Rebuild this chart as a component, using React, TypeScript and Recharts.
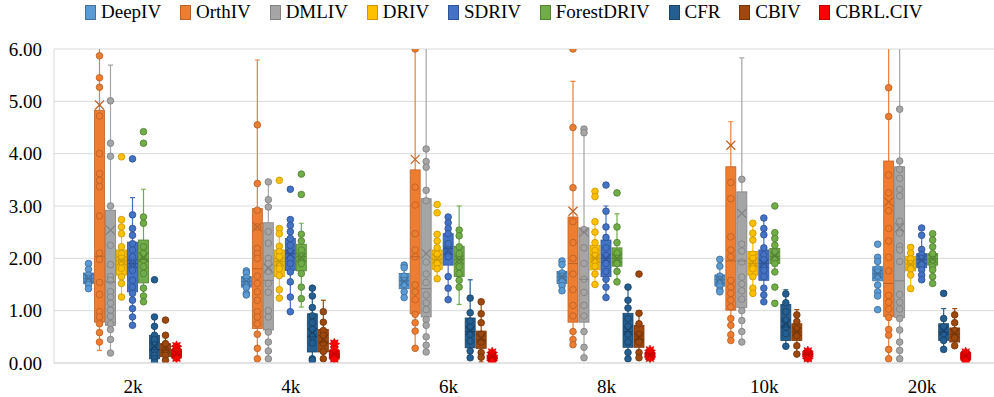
import React from 'react';
import { ComposedChart, Bar, XAxis, YAxis, CartesianGrid } from 'recharts';

const CATEGORIES = ['2k', '4k', '6k', '8k', '10k', '20k'];
const Y_TICKS = [0, 1, 2, 3, 4, 5, 6];

// box stats per category: [whiskerLow, q1, median, q3, whiskerHigh, mean]
const DEEPIV_BOX = [
  [1.42, 1.52, 1.61, 1.72, 1.90, 1.62],
  [1.30, 1.45, 1.56, 1.65, 1.76, 1.56],
  [1.25, 1.42, 1.57, 1.71, 1.87, 1.56],
  [1.38, 1.52, 1.65, 1.75, 1.95, 1.65],
  [1.36, 1.47, 1.59, 1.68, 1.98, 1.60],
  [1.28, 1.57, 1.70, 1.84, 2.02, 1.70],
];
const DEEPIV_PTS = [
  [1.90, 1.79, 1.68, 1.62, 1.57, 1.50, 1.42],
  [1.76, 1.72, 1.63, 1.56, 1.50, 1.44, 1.33, 1.30],
  [1.87, 1.82, 1.66, 1.58, 1.50, 1.36, 1.25],
  [1.95, 1.88, 1.72, 1.66, 1.60, 1.55, 1.48, 1.38],
  [1.98, 1.85, 1.66, 1.60, 1.53, 1.47, 1.39, 1.36],
  [2.27, 2.02, 1.94, 1.80, 1.74, 1.66, 1.49, 1.36, 1.28, 1.02],
];

const ORTHIV_BOX = [
  [0.24, 0.78, 2.04, 4.83, 6.05, 4.93],
  [0.08, 0.66, 1.80, 2.95, 5.79, 2.60],
  [0.28, 0.94, 2.03, 3.69, 6.00, 3.89],
  [0.35, 0.78, 1.90, 2.79, 5.38, 2.90],
  [0.43, 1.01, 1.95, 3.75, 4.61, 4.16],
  [0.06, 0.89, 1.52, 3.86, 6.50, 3.08],
];
const ORTHIV_PTS = [
  [5.87, 5.45, 5.27, 4.72, 4.00, 3.62, 3.49, 3.37, 2.81, 2.10, 1.98, 1.54, 1.31, 0.98, 0.88, 0.75, 0.58, 0.40],
  [4.55, 3.43, 2.92, 2.60, 2.19, 2.09, 2.00, 1.66, 1.52, 1.36, 1.20, 0.98, 0.88, 0.75, 0.55, 0.28, 0.08],
  [6.00, 3.36, 3.02, 2.47, 2.16, 2.03, 1.49, 1.36, 1.21, 0.93, 0.77, 0.61, 0.28],
  [6.00, 4.50, 3.35, 2.70, 2.30, 2.00, 1.70, 1.40, 1.10, 0.90, 0.60, 0.45, 0.35],
  [3.45, 3.14, 2.41, 2.16, 2.03, 1.58, 1.45, 1.33, 1.20, 1.07, 0.85, 0.72, 0.54, 0.43],
  [5.26, 4.71, 3.59, 3.25, 2.91, 2.57, 2.33, 2.02, 1.76, 1.29, 1.16, 1.03, 0.87, 0.64, 0.53, 0.26, 0.08],
];

const DMLIV_BOX = [
  [0.19, 0.72, 1.55, 2.92, 5.69, 2.54],
  [0.06, 0.63, 1.58, 2.68, 3.46, 1.81],
  [0.18, 0.88, 1.42, 3.14, 6.60, 2.09],
  [0.10, 0.78, 1.60, 2.58, 4.50, 2.50],
  [0.38, 1.06, 1.95, 3.27, 5.83, 2.86],
  [0.03, 0.87, 1.57, 3.75, 6.50, 2.59],
];
const DMLIV_PTS = [
  [5.01, 4.20, 3.95, 3.00, 2.25, 1.88, 1.65, 1.58, 1.36, 1.26, 1.14, 1.01, 0.89, 0.75, 0.64, 0.45, 0.19],
  [3.46, 3.12, 2.98, 2.51, 2.29, 2.00, 1.90, 1.75, 1.52, 1.35, 1.00, 0.88, 0.59, 0.40, 0.23, 0.08],
  [4.09, 3.85, 3.74, 3.30, 3.10, 1.93, 1.70, 1.54, 1.30, 1.15, 1.02, 0.83, 0.72, 0.50, 0.34, 0.21],
  [4.47, 4.40, 2.55, 2.20, 1.90, 1.60, 1.35, 1.10, 0.90, 0.60, 0.30, 0.10],
  [3.51, 2.27, 2.14, 1.93, 1.64, 1.51, 1.38, 1.22, 1.00, 0.81, 0.60, 0.40],
  [4.85, 3.86, 3.70, 3.53, 3.32, 3.19, 2.71, 2.48, 2.23, 2.16, 1.94, 1.31, 1.16, 1.03, 0.85, 0.63, 0.40, 0.24, 0.08],
];

const DRIV_BOX = [
  [1.26, 1.68, 1.95, 2.16, 2.74, 1.95],
  [1.24, 1.65, 1.94, 2.16, 2.57, 1.93],
  [1.61, 1.79, 1.98, 2.16, 2.46, 1.99],
  [1.50, 1.78, 2.00, 2.25, 2.70, 2.00],
  [1.33, 1.68, 1.90, 2.13, 2.67, 1.92],
  [1.42, 1.76, 1.89, 2.04, 2.23, 1.89],
];
const DRIV_PTS = [
  [3.94, 2.74, 2.60, 2.47, 2.22, 2.09, 2.00, 1.93, 1.81, 1.65, 1.52, 1.26],
  [3.49, 2.57, 2.47, 2.23, 2.13, 2.03, 1.90, 1.80, 1.67, 1.40, 1.24],
  [3.03, 2.87, 2.46, 2.33, 2.20, 2.08, 1.98, 1.90, 1.80, 1.61],
  [3.28, 3.18, 2.70, 2.50, 2.30, 2.15, 2.05, 1.95, 1.85, 1.70, 1.50],
  [2.67, 2.48, 2.35, 2.08, 2.00, 1.90, 1.80, 1.65, 1.43, 1.33],
  [2.21, 2.10, 1.99, 1.90, 1.80, 1.68, 1.42],
];

const SDRIV_BOX = [
  [0.72, 1.36, 1.90, 2.31, 3.16, 1.90],
  [0.98, 1.77, 2.09, 2.38, 2.74, 2.08],
  [1.21, 1.87, 2.19, 2.47, 2.79, 2.15],
  [1.25, 1.65, 2.00, 2.35, 3.00, 2.00],
  [1.17, 1.58, 1.90, 2.16, 2.77, 1.90],
  [1.59, 1.82, 1.98, 2.09, 2.44, 1.97],
];
const SDRIV_PTS = [
  [3.90, 2.83, 2.57, 2.44, 2.28, 2.16, 2.03, 1.90, 1.77, 1.58, 1.45, 1.33, 1.20, 1.04, 0.88, 0.72],
  [3.32, 2.74, 2.63, 2.51, 2.38, 2.25, 2.13, 2.00, 1.90, 1.74, 1.55, 1.26, 0.98],
  [2.79, 2.68, 2.57, 2.47, 2.28, 2.16, 2.03, 1.65, 1.43, 1.21],
  [3.40, 2.90, 2.60, 2.40, 2.20, 2.05, 1.90, 1.75, 1.60, 1.45, 1.25],
  [2.77, 2.57, 2.45, 2.20, 2.07, 1.97, 1.87, 1.77, 1.65, 1.43, 1.30, 1.17],
  [2.58, 2.44, 2.17, 2.07, 2.00, 1.88, 1.78, 1.68, 1.59],
];

const FORESTDRIV_BOX = [
  [1.17, 1.53, 1.98, 2.35, 3.32, 2.02],
  [1.07, 1.76, 2.03, 2.27, 2.67, 2.02],
  [1.12, 1.65, 1.98, 2.23, 3.00, 1.97],
  [1.55, 1.85, 2.00, 2.20, 2.85, 2.00],
  [1.74, 1.90, 2.04, 2.19, 2.49, 2.05],
  [1.52, 1.87, 1.99, 2.09, 2.47, 1.99],
];
const FORESTDRIV_PTS = [
  [4.42, 4.20, 2.79, 2.67, 2.22, 2.09, 1.97, 1.84, 1.71, 1.43, 1.28, 1.17],
  [3.61, 3.22, 2.46, 2.33, 2.16, 2.03, 1.90, 1.71, 1.45, 1.23],
  [2.54, 2.43, 2.22, 2.09, 1.97, 1.84, 1.71, 1.58, 1.45],
  [3.25, 2.60, 2.30, 2.10, 2.00, 1.90, 1.75, 1.55],
  [3.00, 2.49, 2.38, 2.25, 2.12, 2.00, 1.90, 1.74, 1.45, 1.14],
  [2.47, 2.35, 2.22, 2.09, 1.97, 1.84, 1.78, 1.65, 1.52],
];

const CFR_BOX = [
  [0.02, 0.08, 0.26, 0.53, 0.88, 0.32],
  [0.05, 0.21, 0.50, 0.94, 1.43, 0.58],
  [0.10, 0.29, 0.60, 0.86, 1.59, 0.62],
  [0.08, 0.30, 0.60, 0.95, 1.45, 0.62],
  [0.32, 0.43, 0.69, 1.12, 1.40, 0.75],
  [0.26, 0.43, 0.59, 0.75, 1.04, 0.62],
];
const CFR_PTS = [
  [1.59, 0.88, 0.70, 0.53, 0.45, 0.35, 0.25, 0.15, 0.08, 0.02],
  [1.43, 1.28, 1.06, 0.90, 0.77, 0.64, 0.51, 0.38, 0.08, 0.05],
  [1.24, 0.96, 0.80, 0.68, 0.55, 0.42, 0.23, 0.10],
  [1.45, 1.20, 1.05, 0.85, 0.70, 0.55, 0.40, 0.20, 0.08],
  [1.32, 1.15, 0.98, 0.82, 0.69, 0.56, 0.32],
  [1.33, 0.85, 0.69, 0.56, 0.43, 0.26],
];

const CBIV_BOX = [
  [0.02, 0.12, 0.25, 0.37, 0.53, 0.28],
  [0.05, 0.21, 0.40, 0.64, 1.20, 0.45],
  [0.02, 0.28, 0.44, 0.61, 1.17, 0.48],
  [0.08, 0.30, 0.45, 0.72, 1.00, 0.50],
  [0.17, 0.43, 0.59, 0.75, 1.02, 0.60],
  [0.33, 0.40, 0.55, 0.67, 1.04, 0.57],
];
const CBIV_PTS = [
  [0.82, 0.53, 0.37, 0.25, 0.15, 0.05],
  [0.98, 0.78, 0.62, 0.53, 0.38, 0.22, 0.08],
  [1.17, 0.94, 0.77, 0.55, 0.40, 0.20, 0.11],
  [1.70, 0.95, 0.75, 0.55, 0.40, 0.20, 0.10],
  [0.92, 0.79, 0.65, 0.52, 0.33, 0.17],
  [0.92, 0.77, 0.62, 0.48, 0.33],
];

const CBRL_BOX = [
  [0.08, 0.12, 0.17, 0.24, 0.32, 0.18],
  [0.07, 0.10, 0.15, 0.22, 0.37, 0.17],
  [0.03, 0.07, 0.11, 0.15, 0.22, 0.12],
  [0.08, 0.11, 0.15, 0.20, 0.25, 0.15],
  [0.08, 0.12, 0.16, 0.20, 0.24, 0.16],
  [0.04, 0.08, 0.13, 0.18, 0.22, 0.13],
];
const CBRL_PTS = [
  [0.32, 0.26, 0.20, 0.15, 0.10],
  [0.37, 0.24, 0.17, 0.12, 0.08],
  [0.20, 0.14, 0.09, 0.05],
  [0.24, 0.18, 0.13, 0.10],
  [0.22, 0.17, 0.12, 0.09],
  [0.20, 0.15, 0.10, 0.06],
];

const SERIES = [
  { name: 'DeepIV', color: '#5B9BD5', dark: '#41719C', box: DEEPIV_BOX, pts: DEEPIV_PTS },
  { name: 'OrthIV', color: '#ED7D31', dark: '#BE6227', box: ORTHIV_BOX, pts: ORTHIV_PTS },
  { name: 'DMLIV', color: '#A5A5A5', dark: '#828282', box: DMLIV_BOX, pts: DMLIV_PTS },
  { name: 'DRIV', color: '#FFC000', dark: '#CC9A00', box: DRIV_BOX, pts: DRIV_PTS },
  { name: 'SDRIV', color: '#4472C4', dark: '#2F5597', box: SDRIV_BOX, pts: SDRIV_PTS },
  { name: 'ForestDRIV', color: '#70AD47', dark: '#548235', box: FORESTDRIV_BOX, pts: FORESTDRIV_PTS },
  { name: 'CFR', color: '#255E91', dark: '#1A4468', box: CFR_BOX, pts: CFR_PTS },
  { name: 'CBIV', color: '#9E480E', dark: '#76360A', box: CBIV_BOX, pts: CBIV_PTS },
  { name: 'CBRL.CIV', color: '#FF0000', dark: '#C00000', box: CBRL_BOX, pts: CBRL_PTS, star: true },
];

const Y_MAX = 6;

const ROWS = CATEGORIES.map((cat, ci) => {
  const row: any = { cat };
  SERIES.forEach((s) => {
    const b = s.box[ci];
    const lo = Math.min(b[0], ...s.pts[ci]);
    const hi = Math.min(Math.max(b[4], ...s.pts[ci]), Y_MAX);
    row[s.name] = [lo, hi];
  });
  return row;
});

const FONT = '"Liberation Serif", "Times New Roman", serif';

function starPath(cx: number, cy: number, ro: number, ri: number, n: number) {
  let d = '';
  for (let i = 0; i < n * 2; i++) {
    const r = i % 2 === 0 ? ro : ri;
    const a = (Math.PI * i) / n - Math.PI / 2;
    d += (i === 0 ? 'M' : 'L') + (cx + r * Math.cos(a)).toFixed(2) + ',' + (cy + r * Math.sin(a)).toFixed(2);
  }
  return d + 'Z';
}

function makeShape(si: number) {
  return (props: any) => {
    const { x, y, width, height, payload } = props;
    let ci = props.index;
    if (typeof ci !== 'number' && payload) ci = CATEGORIES.indexOf(payload.cat);
    const s = SERIES[si];
    const [lo, q1, med, q3, hi, mean] = s.box[ci];
    const pts = s.pts[ci];
    const [rLo, rHi] = ROWS[ci][s.name];
    const top = Math.min(y, y + height);
    const bot = Math.max(y, y + height);
    const k = (bot - top) / (rHi - rLo);
    const py = (v: number) => top + (rHi - v) * k;
    const limitTop = py(Y_MAX) - 3;
    const cx = x + width / 2;
    const bx = x + 0.5;
    const bw = width - 1;
    const capH = 2.5;
    const yHi = Math.max(py(hi), limitTop);
    const yLo = py(lo);
    const yQ1 = py(q1);
    const yQ3 = py(q3);
    const xm = 4.5;
    const ym = py(mean);
    return (
      <g>
        <line x1={cx} x2={cx} y1={yHi} y2={yQ3} stroke={s.color} strokeWidth={1.2} />
        <line x1={cx} x2={cx} y1={yQ1} y2={yLo} stroke={s.color} strokeWidth={1.2} />
        {py(hi) >= limitTop && (
          <line x1={cx - capH} x2={cx + capH} y1={yHi} y2={yHi} stroke={s.color} strokeWidth={1.2} />
        )}
        <line x1={cx - capH} x2={cx + capH} y1={yLo} y2={yLo} stroke={s.color} strokeWidth={1.2} />
        <rect x={bx} y={yQ3} width={bw} height={Math.max(yQ1 - yQ3, 1)} fill={s.color} stroke={s.dark} strokeWidth={0.8} />
        {pts.map((v: number, i: number) =>
          s.star ? (
            <path key={i} d={starPath(cx, py(v), 5.5, 3.3, 8)} fill={s.color} stroke={s.dark} strokeWidth={0.5} />
          ) : (
            <circle key={i} cx={cx} cy={py(v)} r={3.3} fill={s.color} stroke={s.dark} strokeWidth={0.9} />
          )
        )}
        <line x1={bx} x2={bx + bw} y1={py(med)} y2={py(med)} stroke={s.dark} strokeWidth={1} />
        <line x1={cx - xm} x2={cx + xm} y1={ym - xm} y2={ym + xm} stroke={s.dark} strokeWidth={1.2} />
        <line x1={cx - xm} x2={cx + xm} y1={ym + xm} y2={ym - xm} stroke={s.dark} strokeWidth={1.2} />
      </g>
    );
  };
}

const SHAPES = SERIES.map((_, i) => makeShape(i));

function LegendBar() {
  return (
    <div
      style={{
        position: 'absolute',
        left: 85,
        top: 0,
        height: 24,
        display: 'flex',
        alignItems: 'center',
        fontFamily: FONT,
        fontSize: 19,
        color: '#000',
        whiteSpace: 'nowrap',
      }}
    >
      {SERIES.map((s, i) => (
        <div key={s.name} style={{ display: 'flex', alignItems: 'center', marginRight: i === SERIES.length - 1 ? 0 : 18.8 }}>
          <span
            style={{
              display: 'inline-block',
              width: 9,
              height: 13,
              background: s.color,
              border: `1px solid ${s.dark}`,
              marginRight: 5,
            }}
          />
          <span>{s.name}</span>
        </div>
      ))}
    </div>
  );
}

export default function App() {
  return (
    <div style={{ position: 'absolute', left: 0, top: 0, width: 994, height: 397, overflow: 'hidden', background: '#fff' }}>
      <ComposedChart
        width={1006}
        height={397}
        data={ROWS}
        margin={{ top: 49, right: 5, bottom: 4, left: 0 }}
        barGap={0}
        barSize={11}
      >
        <CartesianGrid vertical={false} stroke="#D9D9D9" strokeWidth={1} />
        <XAxis
          dataKey="cat"
          type="category"
          height={30}
          axisLine={{ stroke: '#D9D9D9', strokeWidth: 1 }}
          tickLine={false}
          tickSize={0}
          tickMargin={17}
          tick={{ fill: '#000', fontSize: 19, fontFamily: FONT }}
        />
        <YAxis
          type="number"
          domain={[0, Y_MAX]}
          ticks={Y_TICKS}
          allowDataOverflow
          width={54}
          axisLine={{ stroke: '#D9D9D9', strokeWidth: 1 }}
          tickLine={false}
          tickSize={0}
          tickMargin={12}
          tickFormatter={(v: number) => v.toFixed(2)}
          tick={{ fill: '#000', fontSize: 19, fontFamily: FONT }}
        />
        {SERIES.map((s, i) => (
          <Bar key={s.name} dataKey={s.name} fill={s.color} shape={SHAPES[i]} isAnimationActive={false} />
        ))}
      </ComposedChart>
      <LegendBar />
    </div>
  );
}
